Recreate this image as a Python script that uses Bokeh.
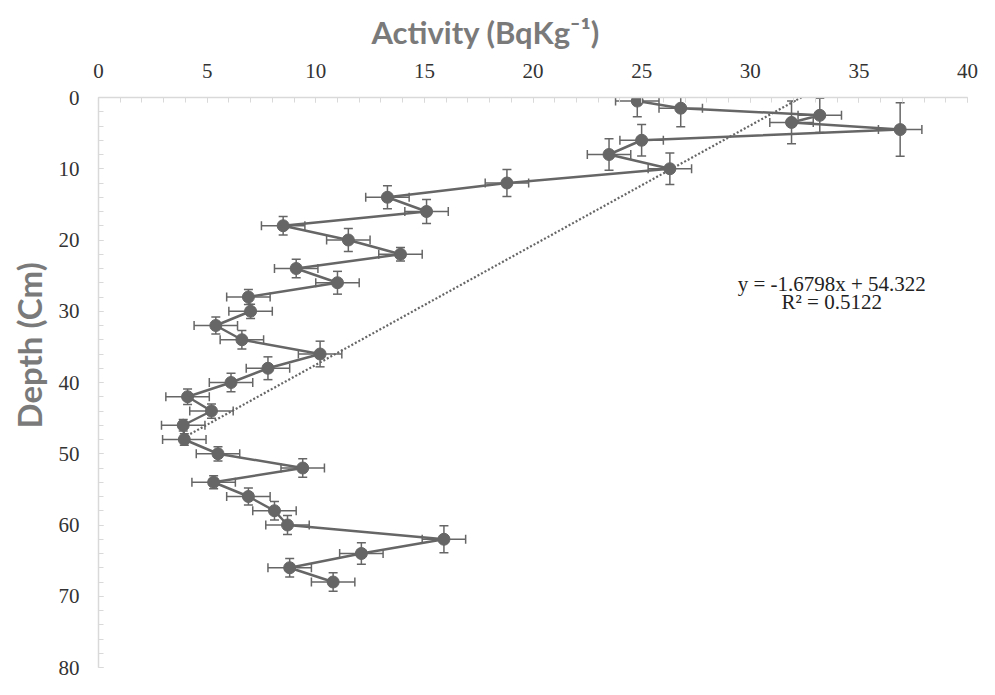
import math
from bokeh.plotting import figure
from bokeh.models import Range1d, FixedTicker, Title
from bokeh.embed import file_html
from bokeh.resources import INLINE
from bokeh.core.properties import value

# ---- data ----
depth = [0.5, 1.5, 2.5, 3.5, 4.5, 6, 8, 10, 12, 14, 16, 18, 20, 22, 24, 26, 28, 30,
         32, 34, 36, 38, 40, 42, 44, 46, 48, 50, 52, 54, 56, 58, 60, 62, 64, 66, 68]
activity = [24.8, 26.8, 33.2, 31.9, 36.9, 25.0, 23.5, 26.3, 18.8, 13.3, 15.1, 8.5,
            11.5, 13.9, 9.1, 11.0, 6.9, 7.0, 5.4, 6.6, 10.2, 7.8, 6.1, 4.1, 5.2, 3.9,
            3.95, 5.5, 9.4, 5.3, 6.9, 8.1, 8.7, 15.9, 12.1, 8.8, 10.8]
activity_err = [1.0, 1.0, 1.0, 1.0, 1.0, 1.0, 1.0, 1.0, 1.0, 1.0, 1.0, 1.0, 1.0,
                1.0, 1.0, 1.0, 1.0, 1.0, 1.0, 1.0, 1.0, 1.0, 1.0, 1.0, 1.0, 1.0,
                1.0, 1.0, 1.0, 1.0, 1.0, 1.0, 1.0, 1.0, 1.0, 1.0, 1.0]
depth_err = [2.2, 2.6, 2.4, 3.0, 3.75, 2.2, 2.2, 2.2, 1.9, 1.6, 1.7, 1.3, 1.6, 0.95,
             1.3, 1.6, 1.05, 1.0, 1.2, 1.3, 1.8, 1.6, 1.3, 1.1, 1.0, 0.8, 0.8, 1.0,
             1.3, 0.9, 1.2, 1.3, 1.35, 1.9, 1.5, 1.3, 1.3]
trend_slope = -1.6798
trend_intercept = 54.322
r_squared = 0.5122
x_ticks = [0, 5, 10, 15, 20, 25, 30, 35, 40]
x_minor_ticks = list(range(0, 41, 1))
y_ticks = [0, 10, 20, 30, 40, 50, 60, 70, 80]
y_minor_ticks = list(range(0, 81, 2))
x_title = "Activity (BqKg\u207b\u00b9)"
y_title = "Depth (Cm)"

DARK = "#666666"
AXIS = "#d9d9d9"
LABEL = "#7a7a7a"

p = figure(width=979, height=679, output_backend="svg", toolbar_location=None,
           x_range=Range1d(0, 40), y_range=Range1d(80, 0), x_axis_location="above",
           min_border_left=97, min_border_top=97, min_border_right=12, min_border_bottom=12)
p.outline_line_color = None
p.grid.visible = False
p.background_fill_color = "white"
p.border_fill_color = "white"

p.title.text = x_title
p.title.align = "left"
p.title.offset = 273
p.title.text_font = "Lato"
p.title.text_font_size = "31px"
p.title.text_font_style = "bold"
p.title.text_color = LABEL
p.title.standoff = 20

p.xaxis.ticker = FixedTicker(ticks=x_ticks, minor_ticks=x_minor_ticks)
p.yaxis.ticker = FixedTicker(ticks=y_ticks, minor_ticks=y_minor_ticks)
for ax in (p.xaxis, p.yaxis):
    ax.axis_line_color = AXIS
    ax.axis_line_width = 1.5
    ax.major_tick_line_color = AXIS
    ax.minor_tick_line_color = AXIS
    ax.major_tick_in = 5
    ax.major_tick_out = 0
    ax.minor_tick_in = 5
    ax.minor_tick_out = 0
    ax.major_label_text_font = "Liberation Serif"
    ax.major_label_text_font_size = "21px"
    ax.major_label_text_color = "#333333"
p.xaxis.major_label_standoff = 20
p.yaxis.major_label_standoff = 19

ytitle = Title(text=y_title, align="left", offset=239, text_font="Lato",
               text_font_size="33px", text_font_style="bold", text_color=LABEL, standoff=13)
p.add_layout(ytitle, "left")

# trendline (Excel linear fit: depth = slope*activity + intercept)
tx = [min(activity), max(activity)]
ty = [trend_slope * v + trend_intercept for v in tx]
p.line(tx, ty, line_color=DARK, line_width=2.2, line_dash="2 2")

# error bars
xl = [a - e for a, e in zip(activity, activity_err)]
xr = [a + e for a, e in zip(activity, activity_err)]
yt = [d - e for d, e in zip(depth, depth_err)]
yb = [d + e for d, e in zip(depth, depth_err)]
p.segment(x0=xl, x1=xr, y0=depth, y1=depth, line_color=DARK, line_width=1.5)
p.segment(x0=activity, x1=activity, y0=yt, y1=yb, line_color=DARK, line_width=1.5)
p.scatter(xl + xr, depth + depth, marker="dash", angle=math.pi / 2, size=9,
          line_color=DARK, line_width=1.5)
p.scatter(activity + activity, yt + yb, marker="dash", size=9,
          line_color=DARK, line_width=1.5)

# data line and markers
p.line(activity, depth, line_color=DARK, line_width=2.5)
p.scatter(activity, depth, size=12, fill_color=DARK, line_color=DARK)

# equation text
p.text(x=[33.75, 33.75], y=[26.2, 28.7],
       text=[f"y = {trend_slope}x + {trend_intercept}", f"R\u00b2 = {r_squared}"],
       text_align="center", text_baseline="middle", text_font=value("Liberation Serif"),
       text_font_size="21px", text_color="#222222")

open("out.html", "w").write(file_html(p, INLINE))
